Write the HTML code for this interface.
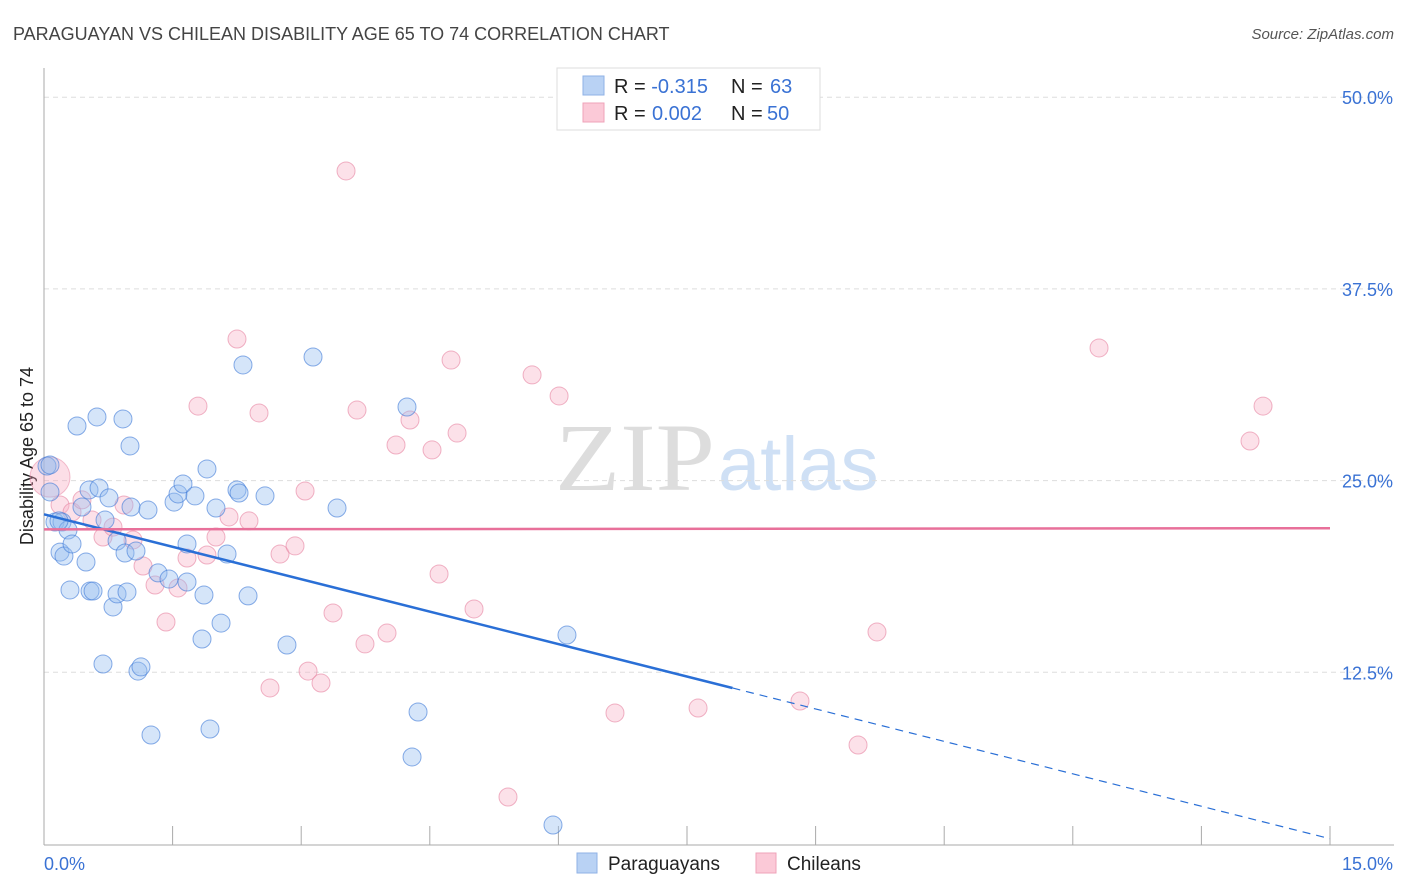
<!DOCTYPE html>
<html><head><meta charset="utf-8"><style>
body{margin:0;background:#fff;font-family:"Liberation Sans",sans-serif;}
svg{display:block}
</style></head><body>
<svg id="chart" width="1406" height="892" xmlns="http://www.w3.org/2000/svg">
<text x="13" y="40" font-size="18" fill="#444">PARAGUAYAN VS CHILEAN DISABILITY AGE 65 TO 74 CORRELATION CHART</text>
<text x="1394" y="39" font-size="15" fill="#555" font-style="italic" text-anchor="end">Source: ZipAtlas.com</text>
<text x="555" y="490" font-size="96" fill="#ddd" font-family="Liberation Serif,serif" textLength="160" lengthAdjust="spacingAndGlyphs">ZIP</text>
<text x="718" y="490" font-size="76" fill="#cfe0f5">atlas</text>
<text transform="translate(33,456) rotate(-90)" font-size="18" fill="#222" text-anchor="middle">Disability Age 65 to 74</text>
<g id="grid"></g><g id="axes"></g><g id="pts"></g><g id="lines"></g>
<g>
<rect x="557" y="68" width="263" height="62" fill="#fff" stroke="#ddd"/>
<rect x="583" y="76" width="21" height="19" fill="#b9d2f4" stroke="#8fb2e6"/>
<rect x="583" y="103" width="21" height="19" fill="#fbc9d7" stroke="#efa3b9"/>
<text x="614" y="93" font-size="20" fill="#222">R = <tspan fill="#3a72d4">-0.315</tspan><tspan x="731">N = </tspan><tspan fill="#3a72d4" x="770">63</tspan></text>
<text x="614" y="120" font-size="20" fill="#222">R = <tspan fill="#3a72d4" x="652">0.002</tspan><tspan x="731">N = </tspan><tspan fill="#3a72d4" x="767">50</tspan></text>
</g>
<g>
<rect x="577" y="853" width="20" height="20" fill="#b9d2f4" stroke="#8fb2e6"/>
<text x="608" y="870" font-size="19" fill="#222">Paraguayans</text>
<rect x="756" y="853" width="20" height="20" fill="#fbc9d7" stroke="#efa3b9"/>
<text x="787" y="870" font-size="19" fill="#222">Chileans</text>
</g>
</svg>
<script>
const blueX=[0.035,0.07,0.128,0.21,0.28,0.187,0.233,0.327,0.303,0.385,0.443,0.49,0.525,0.537,0.572,0.618,0.642,0.688,0.712,0.758,0.805,0.852,0.852,0.921,0.945,0.968,1.003,1.015,1.073,1.096,1.131,1.213,1.248,1.33,1.458,1.517,1.563,1.621,1.668,1.668,1.761,1.843,1.866,1.901,1.936,2.006,2.065,2.135,2.251,2.275,2.321,2.38,2.578,2.834,3.138,3.418,4.234,4.363,4.293,5.937,6.1,0.07,0.175];
const blueY=[25.95,24.26,22.3,22.3,21.78,20.34,20.08,20.87,17.87,28.56,23.28,19.69,24.39,17.8,17.8,29.15,24.52,13.04,22.43,23.87,16.76,21.06,17.61,29.02,20.28,17.74,27.26,23.28,20.41,12.58,12.85,23.08,8.41,18.98,18.58,23.6,24.13,24.78,18.39,20.87,24.0,14.67,17.54,25.76,8.8,23.21,15.71,20.21,24.39,24.19,32.54,17.48,24.0,14.28,33.06,23.21,29.8,9.91,6.98,2.54,14.93,26.02,22.37];
const pinkX=[0.187,0.327,0.443,0.56,0.688,0.805,0.933,1.038,1.155,1.295,1.423,1.563,1.668,1.796,1.901,2.006,2.158,2.251,2.391,2.508,2.636,2.753,2.928,3.045,3.08,3.231,3.371,3.651,3.744,4.001,4.106,4.269,4.526,4.608,4.748,4.818,5.016,5.412,5.693,6.008,6.66,7.629,8.818,9.495,9.716,12.306,14.067,14.219,3.523];
const pinkY=[23.41,22.95,23.74,22.43,21.32,21.97,23.41,21.13,19.43,18.19,15.78,18.0,19.95,29.86,20.15,21.32,22.63,34.23,22.37,29.41,11.48,20.21,20.74,24.32,12.58,11.8,16.37,29.6,14.35,15.06,27.32,28.95,27.0,18.91,32.86,28.1,16.63,4.37,31.89,30.52,9.85,10.17,10.63,7.76,15.13,33.65,27.58,29.86,45.19];
const bigPink=[0.07,25.23];
const blueFit=[22.8,-1.41,8.03];
const pinkFit=[21.82,0.005];
const yTicks=[12.5,25,37.5,50];
const yLabels=["12.5%","25.0%","37.5%","50.0%"];
const xTicks=[0,1.5,3,4.5,6,7.5,9,10.5,12,13.5,15];
const NS="http://www.w3.org/2000/svg";
const sx=v=>44+v*(1286/15);
const sy=v=>864-v*15.336;
function mk(p,t,a){const e=document.createElementNS(NS,t);for(const k in a)e.setAttribute(k,a[k]);document.getElementById(p).appendChild(e);return e;}
yTicks.forEach((t,i)=>{
 const g=mk('grid','line',{x1:44,x2:1394,y1:sy(t),y2:sy(t),stroke:'#ddd','stroke-dasharray':'5,4'});
 
 
 const l=mk('grid','text',{x:1393,y:sy(t)+7,'font-size':18,fill:'#3a72d4','text-anchor':'end'});
 l.textContent=yLabels[i];
 
 
});
const ya=mk('axes','line',{x1:44,x2:44,y1:68,y2:845,stroke:'#aaa'});


const xa=mk('axes','line',{x1:44,x2:1394,y1:845,y2:845,stroke:'#aaa'});


xTicks.forEach(t=>{
 const k=mk('axes','line',{x1:sx(t),x2:sx(t),y1:826,y2:845,stroke:'#aaa'});
 
 
});
[[0,"0.0%","start",44],[15,"15.0%","end",1393]].forEach(a=>{
 const l=mk('axes','text',{x:a[3],y:870,'font-size':18,fill:'#3a72d4','text-anchor':a[2]});
 l.textContent=a[1];
 
 
});
const bp=mk('pts','circle',{cx:sx(bigPink[0]),cy:sy(bigPink[1]),r:20,fill:'rgba(245,160,185,0.35)',stroke:'rgba(230,130,160,0.5)'});


pinkX.forEach((x,i)=>{
 const c=mk('pts','circle',{cx:sx(x),cy:sy(pinkY[i]),r:9,fill:'rgba(248,180,200,0.4)',stroke:'rgba(230,130,160,0.6)'});
 
 
});
blueX.forEach((x,i)=>{
 const c=mk('pts','circle',{cx:sx(x),cy:sy(blueY[i]),r:9,fill:'rgba(150,190,240,0.4)',stroke:'rgba(60,120,215,0.6)'});
 
 
});
const f=(p,x)=>p[0]+p[1]*x;
const b1=mk('lines','line',{x1:sx(0),y1:sy(f(blueFit,0)),x2:sx(blueFit[2]),y2:sy(f(blueFit,blueFit[2])),stroke:'#2a6fd6','stroke-width':2.5});


const b2=mk('lines','line',{x1:sx(blueFit[2]),y1:sy(f(blueFit,blueFit[2])),x2:sx(15),y2:sy(f(blueFit,15)),stroke:'#2a6fd6','stroke-width':1.2,'stroke-dasharray':'8,6'});


const p1=mk('lines','line',{x1:sx(0),y1:sy(f(pinkFit,0)),x2:sx(15),y2:sy(f(pinkFit,15)),stroke:'#e8709a','stroke-width':2.5});


</script>
</body></html>
